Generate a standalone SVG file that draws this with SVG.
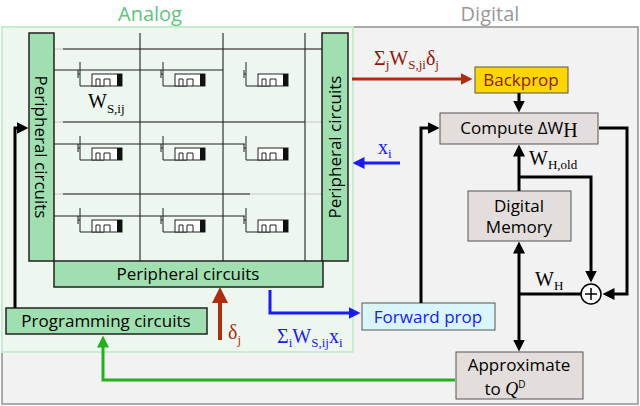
<svg xmlns="http://www.w3.org/2000/svg" width="640" height="406" viewBox="0 0 640 406">
<style>
text{font-family:"Open Sans","Noto Sans",sans-serif;fill:#000}
text.s,tspan.s{font-family:"Liberation Serif",serif}
.per{fill:#a0e0b0;stroke:#222;stroke-width:1.5}
.dbox{fill:#e3dedb;stroke:#555;stroke-width:1}
.w{stroke:#222;stroke-width:1;fill:none}
.g{stroke:#bbb;stroke-width:0.8}
.k{stroke:#000;stroke-width:3;fill:none}
</style>
<defs>
<marker id="ak" markerWidth="4" markerHeight="4" refX="2.5" refY="2" orient="auto" markerUnits="strokeWidth"><path d="M0,0L4,2L0,4z" fill="#000"/></marker>
<marker id="ar" markerWidth="4" markerHeight="4" refX="2.5" refY="2" orient="auto" markerUnits="strokeWidth"><path d="M0,0L4,2L0,4z" fill="#b22a10"/></marker>
<marker id="ab" markerWidth="4" markerHeight="4" refX="2.5" refY="2" orient="auto" markerUnits="strokeWidth"><path d="M0,0L4,2L0,4z" fill="#1a1aff"/></marker>
<marker id="ag" markerWidth="4" markerHeight="4" refX="2.5" refY="2" orient="auto" markerUnits="strokeWidth"><path d="M0,0L4,2L0,4z" fill="#22b020"/></marker>
<g id="cell">
<path class="w" d="M0,0V12M-2,8V16M-2,12H0M0,12V24H24"/>
<rect x="12" y="12" width="30" height="12" fill="#fff" stroke="#222"/>
<rect x="37" y="12" width="5" height="12" fill="#111"/>
<path class="w" d="M16,24V17H20V24M24,24V17H30V24"/>
</g>
</defs>
<rect x="2" y="27" width="636" height="377" fill="#f2f2f2" stroke="#aaa" stroke-width="2"/>
<rect x="2" y="27" width="351" height="325" fill="#eef7ef" stroke="#c8ecd0" stroke-width="2"/>
<text x="150" y="21" font-size="20" text-anchor="middle" style="fill:#5dc47c">Analog</text>
<text x="490" y="21" font-size="20" text-anchor="middle" style="fill:#999">Digital</text>

<g id="array">
<path class="g" d="M140,33V261M223,33V261M305,33V261M54,49H322M54,122H322M54,194H322"/>
<path class="w" d="M63,49H322M63,122H305M63,194H250M140,33V261M223,33V261M305,33V261"/>
<path class="w" d="M54,70H223M54,144H245M54,216H245"/>
<use href="#cell" transform="translate(80,62)"/>
<use href="#cell" transform="translate(163,62)"/>
<use href="#cell" transform="translate(246,62)"/>
<use href="#cell" transform="translate(80,136)"/>
<use href="#cell" transform="translate(163,136)"/>
<use href="#cell" transform="translate(246,136)"/>
<use href="#cell" transform="translate(80,208)"/>
<use href="#cell" transform="translate(163,208)"/>
<use href="#cell" transform="translate(246,208)"/>
<text x="88" y="108" font-size="20" class="s">W<tspan font-size="13" dy="5">S,ij</tspan></text>
</g>

<g id="perL"><rect class="per" x="29" y="33" width="25" height="228"/><text transform="translate(35,147) rotate(90)" font-size="17" text-anchor="middle">Peripheral circuits</text></g>
<g id="perR"><rect class="per" x="322" y="33" width="26" height="228"/><text transform="translate(341,147) rotate(-90)" font-size="17" text-anchor="middle">Peripheral circuits</text></g>
<g id="perB"><rect class="per" x="54" y="261" width="269" height="26"/><text x="188" y="280" font-size="17" text-anchor="middle">Peripheral circuits</text></g>
<g id="prog"><rect class="per" x="6" y="308" width="201" height="26"/><text x="106" y="327" font-size="17" text-anchor="middle">Programming circuits</text></g>

<g id="backprop"><rect x="475" y="67" width="93" height="26" fill="#ffd700" stroke="#555"/><text x="521" y="86" font-size="17" text-anchor="middle" style="fill:#8b1a0a">Backprop</text></g>
<g id="compute"><rect class="dbox" x="440" y="113" width="158" height="31"/><text x="519" y="134" font-size="17" text-anchor="middle">Compute ΔW<tspan class="s" font-size="20" dy="3">H</tspan></text></g>
<g id="memory"><rect class="dbox" x="468" y="191" width="103" height="50"/><text x="519" y="212" font-size="17" text-anchor="middle">Digital</text><text x="519" y="233" font-size="17" text-anchor="middle">Memory</text></g>
<g id="forward"><rect x="362" y="303" width="133" height="27" fill="#d8f6fb" stroke="#555"/><text x="428" y="323" font-size="17" text-anchor="middle" style="fill:#1a1aff">Forward prop</text></g>
<g id="approx"><rect class="dbox" x="456" y="352" width="127" height="47"/><text x="519" y="371" font-size="17" text-anchor="middle">Approximate</text><text x="505" y="395" font-size="17" text-anchor="middle">to <tspan class="s" font-size="18" font-style="italic">Q</tspan><tspan font-size="10" dy="-7">D</tspan></text></g>
<g id="sum"><circle cx="591" cy="294" r="10" fill="#fff" stroke="#000" stroke-width="1.5"/><path d="M585,294H597M591,288V300" stroke="#000" stroke-width="1.5"/></g>

<g id="connectors">
<path class="k" d="M15,308V128H24" marker-end="url(#ak)"/>
<path d="M220,340V293" stroke="#b22a10" stroke-width="4" fill="none" marker-end="url(#ar)"/>
<path d="M270,290V313H356" stroke="#1a1aff" stroke-width="3" fill="none" marker-end="url(#ab)"/>
<path d="M455,380H103V340" stroke="#22b020" stroke-width="3" fill="none" marker-end="url(#ag)"/>
<path d="M352,79H468" stroke="#b22a10" stroke-width="3" fill="none" marker-end="url(#ar)"/>
<path d="M400,163H357" stroke="#1a1aff" stroke-width="3" fill="none" marker-end="url(#ab)"/>
<path class="k" d="M519,93V108" marker-end="url(#ak)"/>
<path class="k" d="M421,303V128H435" marker-end="url(#ak)"/>
<path class="k" d="M519,191V149" marker-end="url(#ak)"/>
<path class="k" d="M519,177H591V278" marker-end="url(#ak)"/>
<path class="k" d="M599,128H627V294H607" marker-end="url(#ak)"/>
<path class="k" d="M581,294H519"/>
<path class="k" d="M519,260V246" marker-end="url(#ak)"/>
<path class="k" d="M519,260V347" marker-end="url(#ak)"/>
</g>
<text x="374" y="65" font-size="20" class="s" style="fill:#8b1a0a">Σ<tspan font-size="13" dy="4">j</tspan><tspan dy="-4">W</tspan><tspan font-size="13" dy="4">S,ji</tspan><tspan dy="-4">δ</tspan><tspan font-size="13" dy="4">j</tspan></text>
<text x="378" y="154" font-size="20" class="s" style="fill:#1a1aff">x<tspan font-size="13" dy="4">i</tspan></text>
<text x="228" y="339" font-size="20" class="s" style="fill:#b22a10">δ<tspan font-size="13" dy="5">j</tspan></text>
<text x="277" y="343" font-size="20" class="s" style="fill:#1a1aff">Σ<tspan font-size="13" dy="4">i</tspan><tspan dy="-4">W</tspan><tspan font-size="13" dy="4">S,ij</tspan><tspan dy="-4">x</tspan><tspan font-size="13" dy="4">i</tspan></text>
<text x="529" y="165" font-size="20" class="s">W<tspan font-size="13" dy="4">H,old</tspan></text>
<text x="535" y="286" font-size="20" class="s">W<tspan font-size="13" dy="4">H</tspan></text>
</svg>
